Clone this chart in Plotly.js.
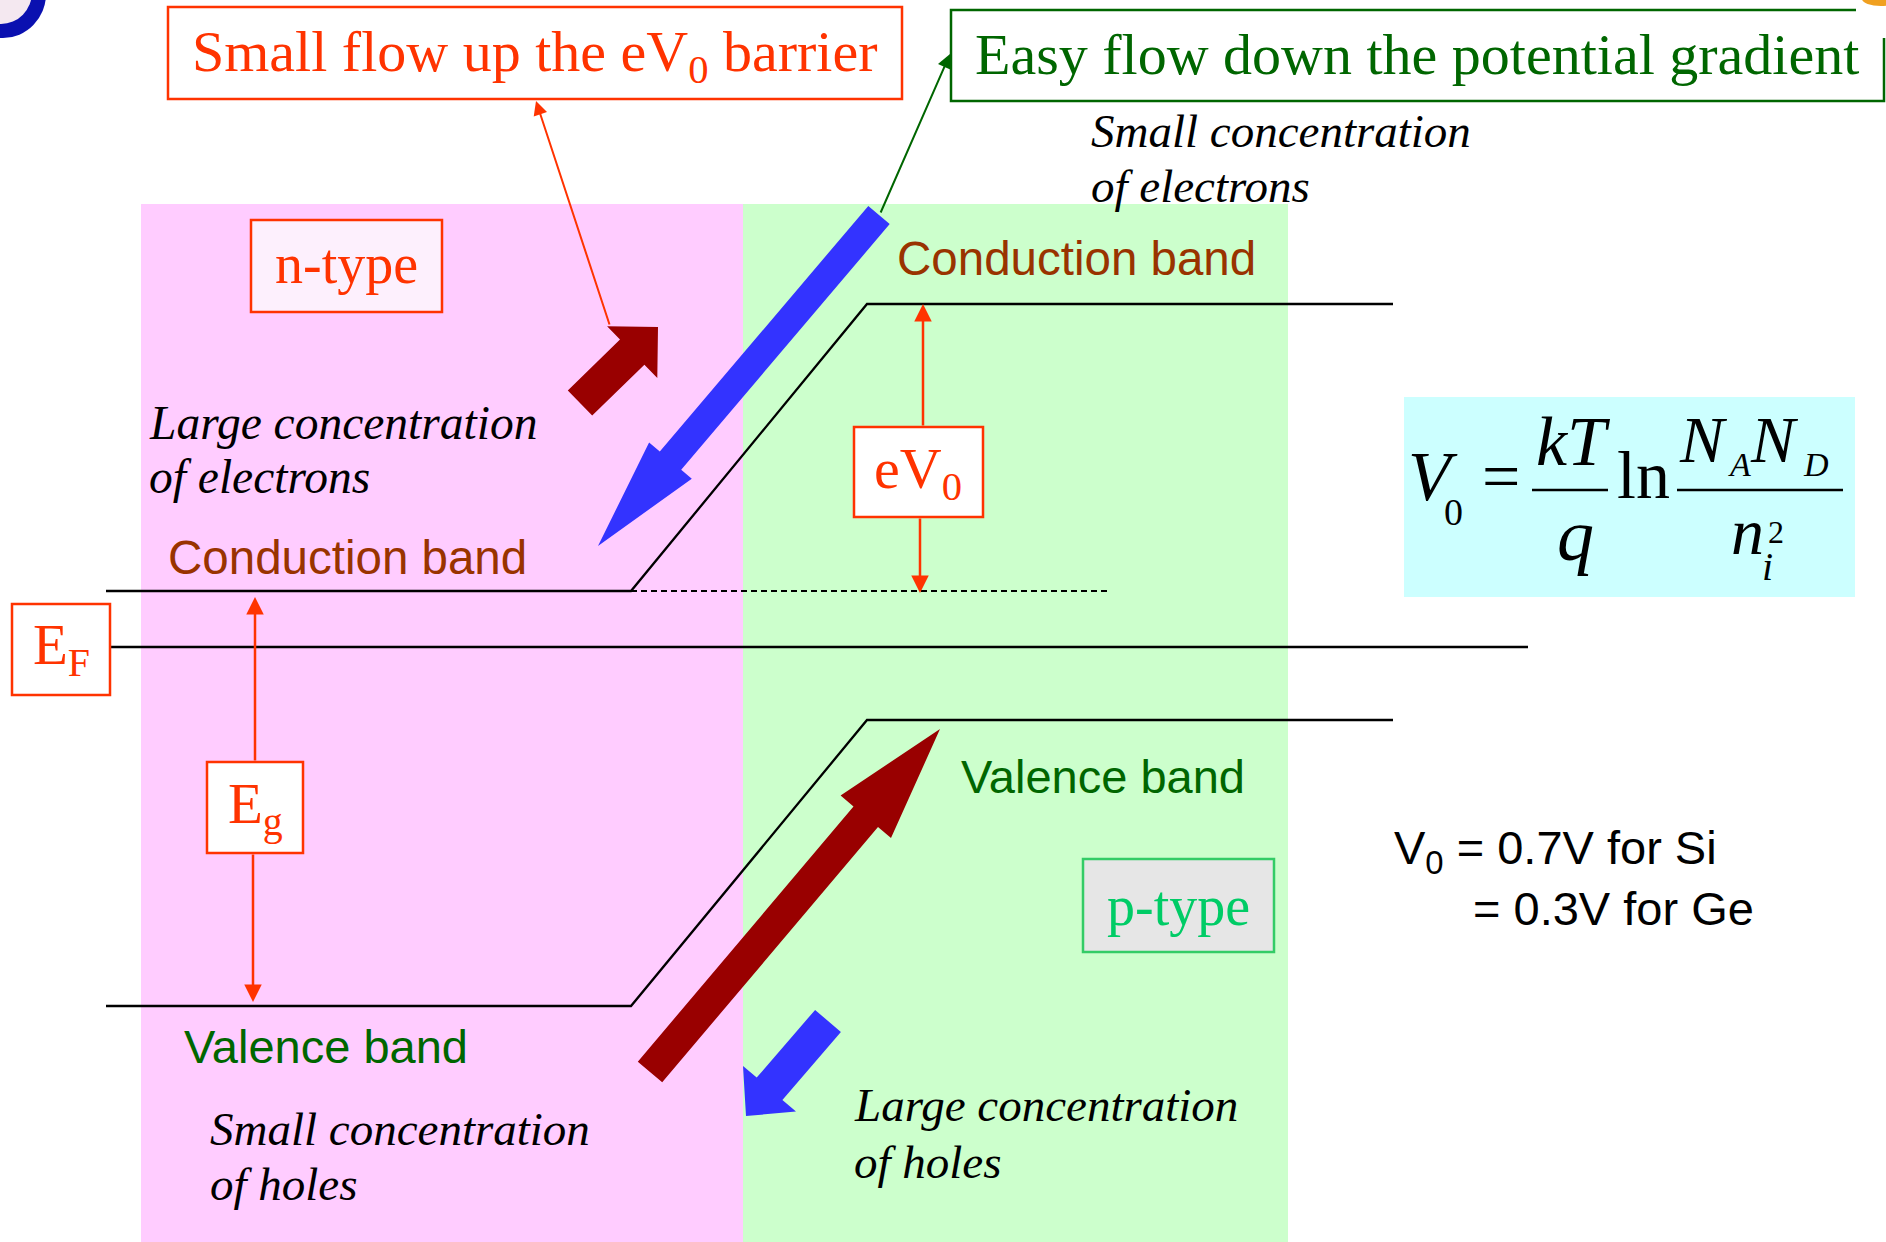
<!DOCTYPE html>
<html><head><meta charset="utf-8">
<script src="https://cdn.plot.ly/plotly-3.0.1.min.js"></script>
<style>html,body{margin:0;padding:0;background:#fff;}#chart{width:1886px;height:1242px;}</style>
</head><body><div id="chart"></div>
<script>
// ---- band diagram data (pixel-like diagram units) ----
const bandX = [106, 631, 867, 1393];          // n-side start, junction start, junction end, p-side end
const conductionY = [591, 591, 304, 304];
const valenceY = [1006, 1006, 720, 720];
const fermiX = [111, 1528];
const fermiY = [647, 647];
const refX = [631, 1107];                      // dashed reference at n-side conduction level
const refY = [591, 591];

// regions
const regionNames = ['n-type', 'p-type'];
const regionX0 = [141, 743];
const regionX1 = [743, 1288];
const regionColors = ['#FFCCFF', '#CCFFCC'];
const regionTop = 204;

// thick flow arrows: tail -> tip
const flowNames = ['small electron flow up', 'easy electron flow down', 'easy hole flow up', 'small hole flow down'];
const flowTail = [[580, 403], [879, 215], [650, 1072], [828, 1021]];
const flowTip  = [[658, 327], [598, 546], [940, 729], [746, 1116]];
const flowShaft = [35, 28, 32, 34];
const flowHeadW = [72, 56, 66, 70];
const flowHeadL = [36, 112, 115, 36];
const flowColors = ['#990000', '#3333FF', '#990000', '#3333FF'];

// energy markers
const egX = [255, 253];      const egY = [597, 1002];   // Eg arrow tips (up, down)
const ev0X = [923, 920];     const ev0Y = [304, 593];   // eV0 arrow tips

const RED = '#FF3300', GREEN = '#006600', BROWN = '#993300', PGREEN = '#00CC66';
const SERIF = 'Liberation Serif, Times New Roman, serif';
const SANS = 'Liberation Sans, Arial, sans-serif';

function arrowPath(t, p, sw, hw, hl) {
  const dx = p[0] - t[0], dy = p[1] - t[1];
  const L = Math.hypot(dx, dy), ux = dx / L, uy = dy / L, nx = -uy, ny = ux;
  const nk = [p[0] - ux * hl, p[1] - uy * hl];
  const pts = [
    [t[0] + nx * sw / 2, t[1] + ny * sw / 2],
    [nk[0] + nx * sw / 2, nk[1] + ny * sw / 2],
    [nk[0] + nx * hw / 2, nk[1] + ny * hw / 2],
    p,
    [nk[0] - nx * hw / 2, nk[1] - ny * hw / 2],
    [nk[0] - nx * sw / 2, nk[1] - ny * sw / 2],
    [t[0] - nx * sw / 2, t[1] - ny * sw / 2]
  ];
  return 'M ' + pts.map(q => q[0].toFixed(1) + ',' + q[1].toFixed(1)).join(' L ') + ' Z';
}

function T(text, x, base, size, color, o) {
  o = o || {};
  const fam = o.family || SERIF;
  const k = fam === SANS ? 0.345 : 0.338;
  return {
    text: text, x: x, y: base - k * size + (o.dy || 0), xref: 'x', yref: 'y',
    xanchor: o.anchor || 'left', yanchor: 'middle', showarrow: false, borderpad: 0,
    font: { family: fam, size: size, color: color, style: o.italic ? 'italic' : 'normal' }
  };
}
function A(x, y, ax, ay, color, w) {
  return { x: x, y: y, ax: ax, ay: ay, xref: 'x', yref: 'y', axref: 'x', ayref: 'y',
    text: '', showarrow: true, arrowhead: 2, arrowsize: 1.4, arrowwidth: w, arrowcolor: color, standoff: 0, startstandoff: 0 };
}
function box(x0, y0, x1, y1, line, fill, w) {
  return { type: 'rect', xref: 'x', yref: 'y', x0: x0, y0: y0, x1: x1, y1: y1,
    line: { color: line, width: w || 2.5 }, fillcolor: fill, layer: 'above' };
}

const traces = [
  { x: bandX, y: conductionY, mode: 'lines', line: { color: '#000', width: 2.3 }, hoverinfo: 'skip', name: 'Conduction band' },
  { x: bandX, y: valenceY, mode: 'lines', line: { color: '#000', width: 2.3 }, hoverinfo: 'skip', name: 'Valence band' },
  { x: fermiX, y: fermiY, mode: 'lines', line: { color: '#000', width: 2.6 }, hoverinfo: 'skip', name: 'E_F' },
  { x: refX, y: refY, mode: 'lines', line: { color: '#000', width: 2, dash: '6px,4px' }, hoverinfo: 'skip', name: 'ref' }
];

const shapes = [];
regionNames.forEach((n, i) => shapes.push({ type: 'rect', xref: 'x', yref: 'y', x0: regionX0[i], x1: regionX1[i], y0: regionTop, y1: 1242,
  fillcolor: regionColors[i], line: { width: 0 }, layer: 'below' }));
flowNames.forEach((n, i) => shapes.push({ type: 'path', xref: 'x', yref: 'y',
  path: arrowPath(flowTail[i], flowTip[i], flowShaft[i], flowHeadW[i], flowHeadL[i]),
  fillcolor: flowColors[i], line: { width: 0 }, layer: 'above' }));
// label boxes
shapes.push(box(168, 7, 902, 99, RED, '#FFFFFF'));
shapes.push(box(951, 10, 1884, 101, GREEN, '#FFFFFF'));
shapes.push(box(251, 220, 442, 312, RED, '#FDF0FD'));
shapes.push(box(1083, 859, 1274, 952, '#33CC66', '#E6E6E6'));
shapes.push(box(854, 427, 983, 517, RED, '#FFFFFF'));
shapes.push(box(12, 604, 110, 695, RED, '#FFFFFF'));
shapes.push(box(207, 762, 303, 853, RED, '#FFFFFF'));
// partial logos at the page corners
shapes.push({ type: 'rect', xref: 'x', yref: 'y', x0: 1856, x1: 1886, y0: 0, y1: 38, fillcolor: '#FFFFFF', line: { width: 0 }, layer: 'above' });
shapes.push({ type: 'circle', xref: 'x', yref: 'y', x0: 1862, x1: 1900, y0: -8, y1: 6, fillcolor: '#F0A020', line: { width: 0 }, layer: 'above' });
shapes.push({ type: 'circle', xref: 'x', yref: 'y', x0: -40, x1: 46, y0: -50, y1: 38, fillcolor: '#0A10B0', line: { width: 0 }, layer: 'above' });
shapes.push({ type: 'circle', xref: 'x', yref: 'y', x0: -30, x1: 32, y0: -40, y1: 24, fillcolor: '#F4E8F0', line: { width: 0 }, layer: 'above' });
// formula panel
shapes.push({ type: 'rect', xref: 'x', yref: 'y', x0: 1404, x1: 1855, y0: 397, y1: 597, fillcolor: '#CCFFFF', line: { width: 0 }, layer: 'above' });
shapes.push({ type: 'line', xref: 'x', yref: 'y', x0: 1532, x1: 1608, y0: 490, y1: 490, line: { color: '#000', width: 2.5 }, layer: 'above' });
shapes.push({ type: 'line', xref: 'x', yref: 'y', x0: 1677, x1: 1843, y0: 490, y1: 490, line: { color: '#000', width: 2.5 }, layer: 'above' });

const ann = [
  // thin pointer arrows
  A(536, 101, 610, 326, RED, 2),
  A(950, 54, 880, 214, GREEN, 2),
  A(egX[0], egY[0], 255, 762, RED, 2.5),
  A(egX[1], egY[1], 253, 853, RED, 2.5),
  A(ev0X[0], ev0Y[0], 923, 427, RED, 2.5),
  A(ev0X[1], ev0Y[1], 920, 517, RED, 2.5),
  // texts
  T('Small flow up the eV<sub>0</sub> barrier', 535, 75, 58, RED, { anchor: 'center' }),
  T('Easy flow down the potential gradient', 1417, 74, 58, GREEN, { anchor: 'center' }),
  T('Small concentration', 1090, 147, 47, '#000', { italic: true }),
  T('of electrons', 1090, 202, 47, '#000', { italic: true }),
  T('n-type', 346, 283, 56, RED, { anchor: 'center' }),
  T('Conduction band', 896, 275, 47.5, BROWN, { family: SANS }),
  T('Conduction band', 167, 574, 47.5, BROWN, { family: SANS }),
  T('Large concentration', 148, 439, 47.5, '#000', { italic: true }),
  T('of electrons', 148, 493, 47.5, '#000', { italic: true }),
  T('eV<sub>0</sub>', 918, 492, 58, RED, { anchor: 'center' }),
  T('E<sub>F</sub>', 61, 668, 57, RED, { anchor: 'center' }),
  T('E<sub>g</sub>', 255, 827, 57, RED, { anchor: 'center' }),
  T('Valence band', 960, 793, 47, GREEN, { family: SANS }),
  T('Valence band', 183, 1063, 47, GREEN, { family: SANS }),
  T('p-type', 1178, 925, 56, PGREEN, { anchor: 'center' }),
  T('Large concentration', 853, 1121, 47, '#000', { italic: true }),
  T('of holes', 853, 1178, 47, '#000', { italic: true }),
  T('Small concentration', 209, 1145, 47, '#000', { italic: true }),
  T('of holes', 209, 1200, 47, '#000', { italic: true }),
  T('V<sub>0</sub> = 0.7V for Si', 1393, 867, 47, '#000', { family: SANS }),
  T('= 0.3V for Ge', 1472, 925, 47, '#000', { family: SANS }),
  // formula
  T('V', 1407, 500, 70, '#000', { italic: true }),
  T('0', 1443, 525, 38, '#000'),
  T('=', 1501, 499, 68, '#000', { anchor: 'center' }),
  T('kT', 1573, 465, 70, '#000', { italic: true, anchor: 'center' }),
  T('q', 1575, 560, 74, '#000', { italic: true, anchor: 'center' }),
  T('ln', 1616, 498, 68, '#000'),
  T('N', 1678, 462, 66, '#000', { italic: true }),
  T('A', 1727, 476, 34, '#000', { italic: true }),
  T('N', 1749, 462, 66, '#000', { italic: true }),
  T('D', 1802, 476, 34, '#000', { italic: true }),
  T('n', 1730, 554, 66, '#000', { italic: true }),
  T('2', 1767, 543, 32, '#000'),
  T('i', 1761, 580, 40, '#000', { italic: true })
];

const layout = {
  width: 1886, height: 1242, margin: { l: 0, r: 0, t: 0, b: 0 },
  paper_bgcolor: '#FFFFFF', plot_bgcolor: '#FFFFFF', showlegend: false,
  xaxis: { range: [0, 1886], visible: false, fixedrange: true },
  yaxis: { range: [1242, 0], visible: false, fixedrange: true },
  shapes: shapes, annotations: ann
};
Plotly.newPlot('chart', traces, layout, { displayModeBar: false, staticPlot: true });
</script></body></html>
